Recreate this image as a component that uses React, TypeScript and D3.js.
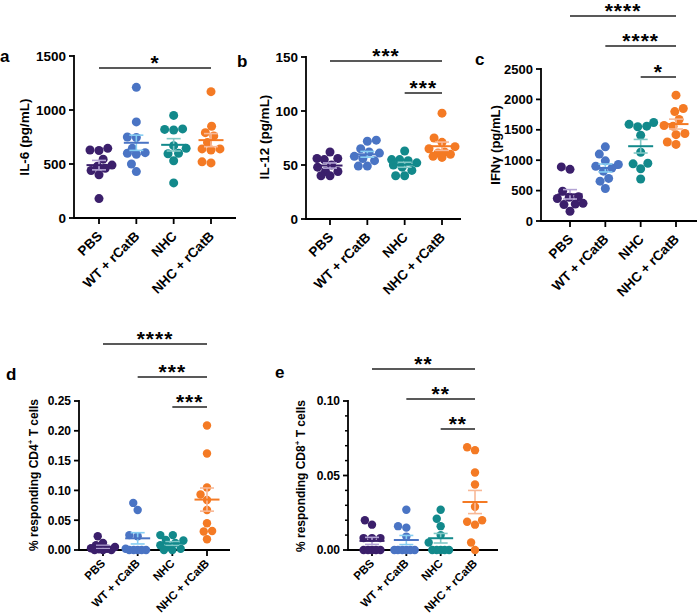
import React from 'react';
import * as d3 from 'd3';

const groups = ['PBS', 'WT + rCatB', 'NHC', 'NHC + rCatB'];
const groupColors = ['#3b1f6b', '#4a74c4', '#12898b', '#f47a24'];
const groupLight = ['#b3a3d4', '#86cdf2', '#80c8c6', '#f8b896'];

// Panel a: IL-6 (pg/mL)
const il6PBS = [645, 630, 625, 545, 490, 480, 460, 440, 400, 180];
const il6WT = [1210, 890, 750, 745, 645, 605, 600, 590, 500, 430];
const il6NHC = [950, 825, 820, 815, 670, 645, 600, 595, 530, 325];
const il6NHCr = [1170, 850, 790, 760, 700, 640, 640, 630, 520, 510];
const il6Ticks = [0, 500, 1000, 1500];

// Panel b: IL-12 (pg/mL)
const il12PBS = [62, 56, 55, 56, 50, 48, 44, 44, 40, 40];
const il12WT = [73, 72, 65, 62, 61, 58, 56, 54, 49, 49];
const il12NHC = [63, 55, 55, 54, 52, 50, 48, 45, 40, 40];
const il12NHCr = [98, 75, 71, 67, 65, 62, 61, 60, 58, 57];
const il12Ticks = [0, 50, 100, 150];

// Panel c: IFNγ (pg/mL)
const ifnPBS = [890, 850, 490, 400, 390, 370, 290, 280, 270, 160];
const ifnWT = [1220, 1100, 990, 930, 900, 870, 820, 700, 655, 535];
const ifnNHC = [1620, 1590, 1560, 1550, 1410, 1130, 950, 940, 860, 690];
const ifnNHCr = [2070, 1850, 1800, 1670, 1570, 1560, 1440, 1420, 1300, 1260];
const ifnTicks = [0, 500, 1000, 1500, 2000, 2500];

// Panel d: % responding CD4+ T cells
const cd4PBS = [0.023, 0.012, 0.008, 0.005, 0.003, 0.002, 0.001, 0, 0, 0];
const cd4WT = [0.079, 0.067, 0.025, 0.023, 0.002, 0, 0, 0, 0, 0];
const cd4NHC = [0.025, 0.025, 0.017, 0.016, 0.012, 0.008, 0.005, 0.002, 0, 0];
const cd4NHCr = [0.209, 0.162, 0.105, 0.093, 0.084, 0.067, 0.045, 0.032, 0.031, 0.018];
const cd4Ticks = [0, 0.05, 0.1, 0.15, 0.2, 0.25];

// Panel e: % responding CD8+ T cells
const cd8PBS = [0.02, 0.017, 0.008, 0.008, 0.008, 0, 0, 0, 0, 0];
const cd8WT = [0.027, 0.016, 0.015, 0.009, 0, 0, 0, 0, 0, 0];
const cd8NHC = [0.027, 0.021, 0.016, 0.01, 0.005, 0, 0, 0, 0, 0];
const cd8NHCr = [0.069, 0.067, 0.052, 0.044, 0.029, 0.02, 0.019, 0.017, 0.005, 0];
const cd8Ticks = [0, 0.05, 0.1];
const cd8MinorTicks = [0.01, 0.02, 0.03, 0.04, 0.06, 0.07, 0.08, 0.09];

// significance comparisons: [from group, to group, label]
const sigA: [number, number, string][] = [[0, 3, '*']];
const sigB: [number, number, string][] = [[0, 3, '***'], [2, 3, '***']];
const sigC: [number, number, string][] = [[0, 3, '****'], [1, 3, '****'], [2, 3, '*']];
const sigD: [number, number, string][] = [[0, 3, '****'], [1, 3, '***'], [2, 3, '***']];
const sigE: [number, number, string][] = [[0, 3, '**'], [1, 3, '**'], [2, 3, '**']];

const FONT = '"Liberation Sans", Arial, Helvetica, sans-serif';

function swarm(vals: number[], y: (v: number) => number, r: number, maxW: number) {
  const pts = vals.map((v, i) => ({ v, y: y(v), x: 0, i }));
  const order = [...pts].sort((a, b) => b.y - a.y || a.i - b.i);
  const placed: { x: number; y: number }[] = [];
  for (const p of order) {
    const cands: number[] = [0];
    const blocks: [number, number][] = [];
    for (const q of placed) {
      const dy = p.y - q.y;
      if (Math.abs(dy) < 2 * r) {
        const dx = Math.sqrt(4 * r * r - dy * dy);
        blocks.push([q.x - dx, q.x + dx]);
        cands.push(q.x - dx - 0.01, q.x + dx + 0.01);
      }
    }
    cands.sort((a, b) => Math.abs(a) - Math.abs(b));
    let found = false;
    for (const c of cands) {
      if (Math.abs(c) > maxW) continue;
      if (blocks.every(([l, h]) => c <= l || c >= h)) {
        p.x = c;
        found = true;
        break;
      }
    }
    if (!found) {
      let best = 0;
      let bestD = -1;
      for (let c = -maxW; c <= maxW + 0.001; c += 0.5) {
        let dmin = Infinity;
        for (const q of placed) {
          const d = Math.hypot(c - q.x, p.y - q.y);
          if (d < dmin) dmin = d;
        }
        if (dmin > bestD + 0.01 || (Math.abs(dmin - bestD) <= 0.01 && Math.abs(c) < Math.abs(best))) {
          bestD = dmin;
          best = c;
        }
      }
      p.x = best;
    }
    placed.push(p);
  }
  return pts;
}

type PanelProps = {
  letter: string;
  letterPos: [number, number];
  data: number[][];
  domain: [number, number];
  ticks: number[];
  minorTicks?: number[];
  fmt: (v: number) => string;
  xAxis: [number, number];
  yRange: [number, number];
  catRange: [number, number];
  sig: [number, number, string][];
  sigY: number[];
  title: React.ReactNode;
  titlePos: [number, number];
  fs: number;
  catFs: number;
  catOff: [number, number];
  r: number;
  maxW: number;
};

function Panel(p: PanelProps) {
  const y = d3.scaleLinear().domain(p.domain).range(p.yRange);
  const x = d3.scalePoint<string>().domain(groups).range(p.catRange);
  const [x0, x1] = p.xAxis;
  const yb = y(p.domain[0]);
  const yt = y(p.domain[1]);
  return (
    <g fontFamily={FONT}>
      <text x={p.letterPos[0]} y={p.letterPos[1]} fontSize={17} fontWeight="bold">{p.letter}</text>
      {/* y axis */}
      <line x1={x0} x2={x0} y1={yt - 1} y2={yb} stroke="#000" strokeWidth={1.8} />
      {p.ticks.map((t) => (
        <g key={t}>
          <line x1={x0 - 5} x2={x0} y1={y(t)} y2={y(t)} stroke="#000" strokeWidth={1.8} />
          <text x={x0 - 8} y={y(t)} dy="0.36em" textAnchor="end" fontSize={p.fs} fontWeight="bold">{p.fmt(t)}</text>
        </g>
      ))}
      {(p.minorTicks || []).map((t) => (
        <line key={'m' + t} x1={x0 - 3} x2={x0} y1={y(t)} y2={y(t)} stroke="#000" strokeWidth={1.5} />
      ))}
      <text transform={`translate(${p.titlePos[0]},${p.titlePos[1]}) rotate(-90)`} textAnchor="middle" fontSize={p.fs} fontWeight="bold">{p.title}</text>
      {/* x axis */}
      <line x1={x0 - 0.9} x2={x1} y1={yb} y2={yb} stroke="#000" strokeWidth={1.8} />
      {groups.map((g) => (
        <g key={g}>
          <line x1={x(g)!} x2={x(g)!} y1={yb} y2={yb + 6} stroke="#000" strokeWidth={1.8} />
          <text transform={`translate(${x(g)! + p.catOff[0]},${yb + p.catOff[1]}) rotate(-45)`} textAnchor="end" fontSize={p.catFs} fontWeight="bold">{g}</text>
        </g>
      ))}
      {/* points */}
      {p.data.map((vals, gi) => {
        const cx = x(groups[gi])!;
        const pts = swarm(vals, y, p.r, p.maxW);
        const m = d3.mean(vals)!;
        const sem = d3.deviation(vals)! / Math.sqrt(vals.length);
        const lo = Math.max(m - sem, p.domain[0]);
        return (
          <g key={gi}>
            {pts.map((pt) => (
              <circle key={pt.i} cx={cx + pt.x} cy={pt.y} r={p.r} fill={groupColors[gi]} />
            ))}
            <line x1={cx} x2={cx} y1={y(lo)} y2={y(m + sem)} stroke={groupLight[gi]} strokeWidth={1.6} />
            <line x1={cx - 7} x2={cx + 7} y1={y(m + sem)} y2={y(m + sem)} stroke={groupLight[gi]} strokeWidth={1.6} />
            <line x1={cx - 7} x2={cx + 7} y1={y(lo)} y2={y(lo)} stroke={groupLight[gi]} strokeWidth={1.6} />
            <line x1={cx - 12.5} x2={cx + 12.5} y1={y(m)} y2={y(m)} stroke={groupColors[gi]} strokeWidth={2} />
          </g>
        );
      })}
      {/* significance */}
      {p.sig.map(([a, b, lab], i) => {
        const xa = x(groups[a])!;
        const xbb = x(groups[b])!;
        const sy = p.sigY[i];
        return (
          <g key={'s' + i}>
            <line x1={xa} x2={xbb} y1={sy} y2={sy} stroke="#222" strokeWidth={1.5} />
            <text x={(xa + xbb) / 2} y={sy + 2} textAnchor="middle" fontSize={21} fontWeight="bold" letterSpacing={1}>{lab}</text>
          </g>
        );
      })}
    </g>
  );
}

const f0 = d3.format('d');
const f2 = d3.format('.2f');

export default function App() {
  return (
    <div style={{ position: 'absolute', left: 0, top: 0 }}>
      <svg width={700} height={614} style={{ display: 'block', background: '#fff' }}>
        <Panel letter="a" letterPos={[0, 62]} data={[il6PBS, il6WT, il6NHC, il6NHCr]} domain={[0, 1500]} ticks={il6Ticks} fmt={f0}
          xAxis={[74, 236]} yRange={[218, 56]} catRange={[99, 211]} sig={sigA} sigY={[68]}
          title="IL-6 (pg/mL)" titlePos={[29, 137]} fs={13.5} catFs={13.5} catOff={[4, 19]} r={4.5} maxW={13} />
        <Panel letter="b" letterPos={[237, 67]} data={[il12PBS, il12WT, il12NHC, il12NHCr]} domain={[0, 150]} ticks={il12Ticks} fmt={f0}
          xAxis={[306, 461]} yRange={[219, 57]} catRange={[330, 442]} sig={sigB} sigY={[61, 93]}
          title="IL-12 (pg/mL)" titlePos={[269, 137]} fs={13.5} catFs={13.5} catOff={[4, 19]} r={4.5} maxW={13} />
        <Panel letter="c" letterPos={[475, 65]} data={[ifnPBS, ifnWT, ifnNHC, ifnNHCr]} domain={[0, 2500]} ticks={ifnTicks} fmt={f0}
          xAxis={[541, 697]} yRange={[221, 69]} catRange={[570, 676]} sig={sigC} sigY={[16, 46, 77]}
          title="IFNγ (pg/mL)" titlePos={[500, 145]} fs={13} catFs={13.5} catOff={[4, 19]} r={4.5} maxW={13} />
        <Panel letter="d" letterPos={[6, 380]} data={[cd4PBS, cd4WT, cd4NHC, cd4NHCr]} domain={[0, 0.25]} ticks={cd4Ticks} fmt={f2}
          xAxis={[79, 230]} yRange={[550, 401]} catRange={[103, 207]} sig={sigD} sigY={[344, 377, 407]}
          title={<>% responding CD4<tspan fontSize={8} dy={-5}>+</tspan><tspan dy={5}> T cells</tspan></>} titlePos={[38, 475]} fs={12} catFs={11.5} catOff={[3, 14]} r={4.2} maxW={12} />
        <Panel letter="e" letterPos={[275, 378]} data={[cd8PBS, cd8WT, cd8NHC, cd8NHCr]} domain={[0, 0.1]} ticks={cd8Ticks} minorTicks={cd8MinorTicks} fmt={f2}
          xAxis={[348, 498]} yRange={[550, 401]} catRange={[372, 475]} sig={sigE} sigY={[369, 399, 429]}
          title={<>% responding CD8<tspan fontSize={8} dy={-5}>+</tspan><tspan dy={5}> T cells</tspan></>} titlePos={[305, 476]} fs={12} catFs={11.5} catOff={[3, 14]} r={4.2} maxW={12} />
      </svg>
    </div>
  );
}
